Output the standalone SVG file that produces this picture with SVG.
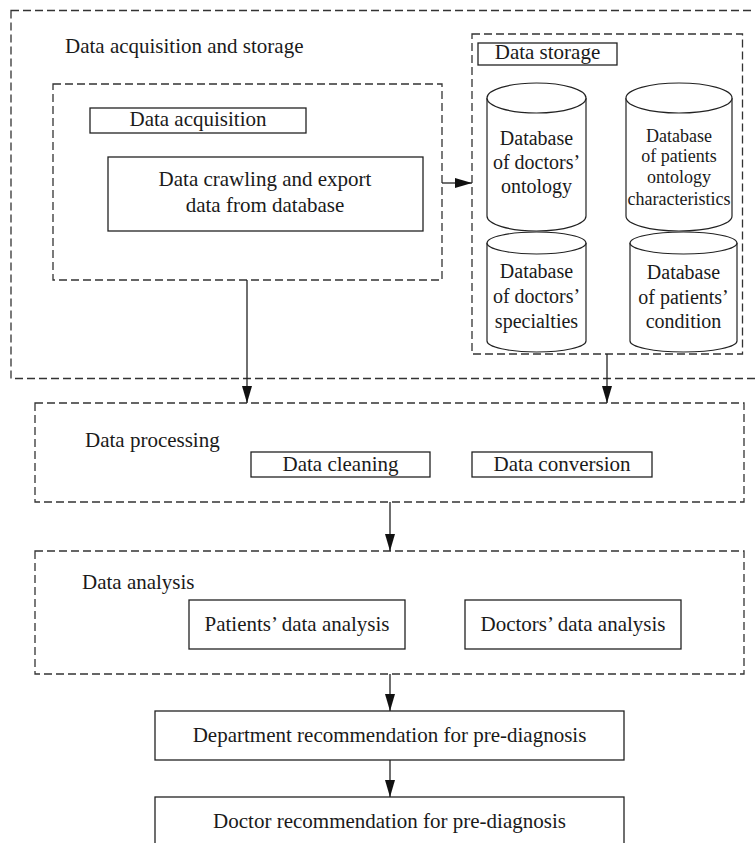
<svg xmlns="http://www.w3.org/2000/svg" width="755" height="843" viewBox="0 0 755 843">
<defs>
<style>
text{font-family:"Liberation Serif","Times New Roman",serif;font-size:21px;fill:#1a1a1a}
.c{text-anchor:middle}
.s{font-size:20px}
.xs{font-size:18px}
.dash{fill:none;stroke:#333;stroke-width:1.3;stroke-dasharray:8 4}
.box{fill:#fff;stroke:#222;stroke-width:1.3}
.cyl{fill:#fff;stroke:#222;stroke-width:1.2}
.conn{stroke:#222;stroke-width:1.3;fill:none}
</style>
<marker id="ah" markerUnits="userSpaceOnUse" markerWidth="17" markerHeight="10" refX="17" refY="5" orient="auto">
<path d="M0,0 L17,5 L0,10 z" fill="#111"/>
</marker>
</defs>
<rect width="755" height="843" fill="#fff"/>

<g id="acq-storage">
<rect class="dash" x="11" y="10.5" width="770" height="368"/>
<text x="65" y="53">Data acquisition and storage</text>
</g>

<g id="acquisition">
<rect class="dash" x="53" y="84" width="389" height="196"/>
<rect class="box" x="90" y="108" width="216" height="25"/>
<text class="c" x="198" y="126">Data acquisition</text>
</g>

<g id="crawling">
<rect class="box" x="108" y="157" width="315" height="74"/>
<text class="c" x="265" y="186">Data crawling and export</text>
<text class="c" x="265" y="212">data from database</text>
</g>

<g id="storage">
<rect class="dash" x="472" y="34" width="270.5" height="320"/>
<rect class="box" x="478" y="43" width="139" height="22"/>
<text class="c" x="547.5" y="59">Data storage</text>
</g>

<g id="db-doctors-ontology">
<path class="cyl" d="M487,98 L487,216 A49.5,15 0 0 0 586,216 L586,98"/>
<ellipse class="cyl" cx="536.5" cy="98" rx="49.5" ry="15"/>
<text class="c s" x="536.5" y="145">Database</text>
<text class="c s" x="536.5" y="169">of doctors’</text>
<text class="c s" x="536.5" y="193">ontology</text>
</g>

<g id="db-patients-ontology">
<path class="cyl" d="M626,98 L626,216 A53,15 0 0 0 732,216 L732,98"/>
<ellipse class="cyl" cx="679" cy="98" rx="53" ry="15"/>
<text class="c xs" x="679" y="142">Database</text>
<text class="c xs" x="679" y="162">of patients</text>
<text class="c xs" x="679" y="183">ontology</text>
<text class="c xs" x="679" y="205">characteristics</text>
</g>

<g id="db-doctors-specialties">
<path class="cyl" d="M487,243 L487,341 A49.5,11 0 0 0 586,341 L586,243"/>
<ellipse class="cyl" cx="536.5" cy="243" rx="49.5" ry="11"/>
<text class="c s" x="536.5" y="278">Database</text>
<text class="c s" x="536.5" y="303">of doctors’</text>
<text class="c s" x="536.5" y="328">specialties</text>
</g>

<g id="db-patients-condition">
<path class="cyl" d="M630,243 L630,341 A53.5,11 0 0 0 737,341 L737,243"/>
<ellipse class="cyl" cx="683.5" cy="243" rx="53.5" ry="11"/>
<text class="c s" x="683.5" y="279">Database</text>
<text class="c s" x="683.5" y="304">of patients’</text>
<text class="c s" x="683.5" y="328">condition</text>
</g>

<g id="processing">
<rect class="dash" x="35" y="403" width="709" height="99"/>
<text x="85" y="447">Data processing</text>
</g>
<g id="cleaning">
<rect class="box" x="251" y="452" width="179" height="25"/>
<text class="c" x="340.5" y="471">Data cleaning</text>
</g>
<g id="conversion">
<rect class="box" x="472" y="452" width="180" height="25"/>
<text class="c" x="562" y="471">Data conversion</text>
</g>

<g id="analysis">
<rect class="dash" x="35" y="551" width="709" height="123"/>
<text x="82" y="589">Data analysis</text>
</g>
<g id="patients-analysis">
<rect class="box" x="189" y="600" width="216" height="49"/>
<text class="c" x="297" y="631">Patients’ data analysis</text>
</g>
<g id="doctors-analysis">
<rect class="box" x="465" y="600" width="216" height="49"/>
<text class="c" x="573" y="631">Doctors’ data analysis</text>
</g>

<g id="dept-rec">
<rect class="box" x="155" y="711" width="469" height="49"/>
<text class="c" x="389.5" y="742">Department recommendation for pre-diagnosis</text>
</g>
<g id="doctor-rec">
<rect class="box" x="155" y="797" width="469" height="60"/>
<text class="c" x="389.5" y="828">Doctor recommendation for pre-diagnosis</text>
</g>

<g id="connectors">
<path class="conn" d="M442,183 L472,183" marker-end="url(#ah)"/>
<path class="conn" d="M247,280 L247,403" marker-end="url(#ah)"/>
<path class="conn" d="M607,354 L607,403" marker-end="url(#ah)"/>
<path class="conn" d="M390,502 L390,551" marker-end="url(#ah)"/>
<path class="conn" d="M390,674 L390,711" marker-end="url(#ah)"/>
<path class="conn" d="M390,760 L390,797" marker-end="url(#ah)"/>
</g>
</svg>
